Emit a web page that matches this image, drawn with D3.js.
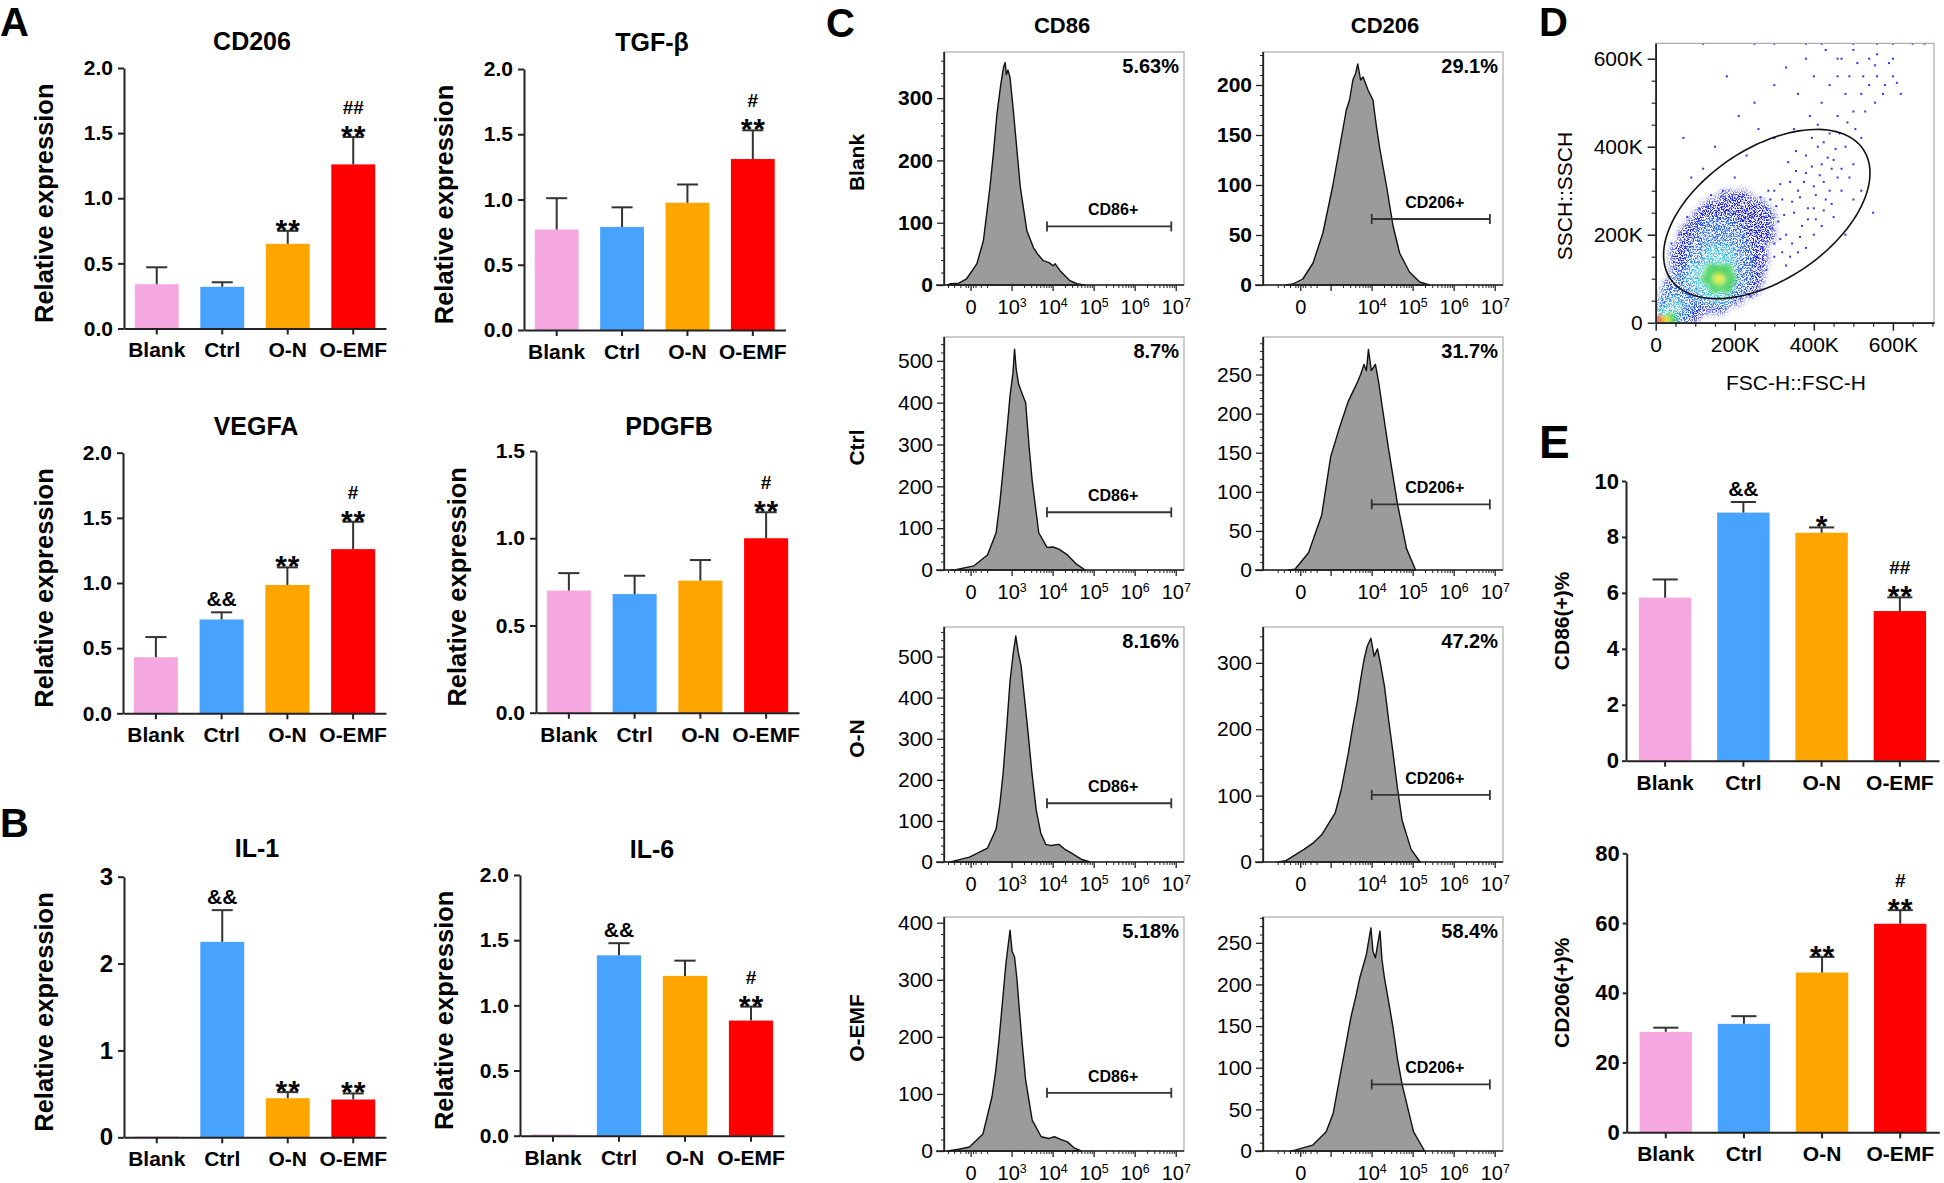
<!DOCTYPE html>
<html><head><meta charset="utf-8">
<script src="https://cdn.jsdelivr.net/npm/d3@7/dist/d3.min.js"></script>
<style>body{margin:0;background:#fff} svg{display:block}</style>
</head><body>
<svg id="fig" width="1944" height="1183"></svg>
<script>
// ---------------- DATA ----------------
const groups = ["Blank","Ctrl","O-N","O-EMF"];
const groupColors = ["#f5a8e0","#48a2ff","#ffa500","#ff0000"];

// Panel A
const cd206Mean = [0.34,0.32,0.65,1.26];
const cd206Sd   = [0.13,0.035,0.10,0.21];
const cd206Mark1 = ["","","**","**"];
const cd206Mark2 = ["","","","##"];

const tgfMean = [0.77,0.79,0.975,1.31];
const tgfSd   = [0.24,0.15,0.14,0.22];
const tgfMark1 = ["","","","**"];
const tgfMark2 = ["","","","#"];

const vegfaMean = [0.43,0.72,0.985,1.26];
const vegfaSd   = [0.155,0.055,0.135,0.21];
const vegfaMark1 = ["","&&","**","**"];
const vegfaMark2 = ["","","","#"];

const pdgfbMean = [0.70,0.68,0.757,1.0];
const pdgfbSd   = [0.10,0.105,0.118,0.149];
const pdgfbMark1 = ["","","","**"];
const pdgfbMark2 = ["","","","#"];

// Panel B
const il1Mean = [0.01,2.25,0.45,0.435];
const il1Sd   = [0,0.365,0.07,0.07];
const il1Mark1 = ["","&&","**","**"];
const il1Mark2 = ["","","",""];

const il6Mean = [0.01,1.384,1.226,0.883];
const il6Sd   = [0,0.093,0.117,0.107];
const il6Mark1 = ["","&&","","**"];
const il6Mark2 = ["","","","#"];

// Panel E
const cd86PctMean = [5.83,8.87,8.15,5.35];
const cd86PctSd   = [0.65,0.38,0.19,0.49];
const cd86PctMark1 = ["","&&","*","**"];
const cd86PctMark2 = ["","","","##"];

const cd206PctMean = [28.8,31.1,45.8,59.8];
const cd206PctSd   = [1.2,2.2,4.5,3.9];
const cd206PctMark1 = ["","","**","**"];
const cd206PctMark2 = ["","","","#"];

// tick values
const relTicks2 = [0,0.5,1.0,1.5,2.0];
const relTicks15 = [0,0.5,1.0,1.5];
const il1Ticks = [0,1,2,3];
const cd86PctTicks = [0,2,4,6,8,10];
const cd206PctTicks = [0,20,40,60,80];

// Panel C: histograms, [display position (decade units), count]
const histBlankCD86 = [[1.42,0],[1.5,2],[1.7,3],[1.89,10],[2.14,34],[2.30,71],[2.46,157],[2.55,215],[2.63,274],[2.72,320],[2.79,349],[2.83,357],[2.86,338],[2.9,345],[2.95,333],[3.03,280],[3.12,215],[3.20,157],[3.36,87],[3.52,60],[3.62,50],[3.76,39],[3.9,36],[4.0,31],[4.05,34],[4.17,23],[4.3,14],[4.41,7],[4.58,2],[4.75,0]];
const histBlankCD206 = [[1.9,0],[2.07,1],[2.31,6],[2.56,22],[2.80,52],[3.04,99],[3.21,138],[3.37,175],[3.45,185],[3.53,205],[3.6,212],[3.65,221],[3.72,205],[3.78,208],[3.9,195],[4.02,185],[4.1,160],[4.18,138],[4.35,99],[4.51,59],[4.67,32],[4.91,13],[5.16,3],[5.4,0]];
const histCtrlCD86 = [[1.5,0],[1.63,1],[2.07,10],[2.40,36],[2.61,89],[2.70,160],[2.79,249],[2.88,340],[2.95,417],[3.02,470],[3.06,528],[3.1,480],[3.16,444],[3.25,420],[3.33,400],[3.41,300],[3.49,213],[3.65,89],[3.85,54],[4.0,55],[4.14,50],[4.35,36],[4.57,14],[4.78,0]];
const histCtrlCD206 = [[1.95,0],[2.12,1],[2.45,22],[2.77,70],[2.99,145],[3.21,183],[3.42,216],[3.55,230],[3.64,240],[3.72,250],[3.80,263],[3.86,255],[3.91,282],[3.98,255],[4.08,263],[4.16,240],[4.24,211],[4.40,155],[4.62,84],[4.84,27],[5.06,0]];
const histONCD86 = [[1.45,0],[1.52,1],[1.96,12],[2.40,34],[2.61,80],[2.70,140],[2.78,215],[2.87,330],[2.95,441],[3.03,510],[3.09,550],[3.15,510],[3.22,477],[3.30,400],[3.38,324],[3.48,220],[3.59,125],[3.70,70],[3.82,43],[3.95,40],[4.14,43],[4.30,30],[4.46,21],[4.70,6],[4.90,0]];
const histONCD206 = [[1.7,0],[1.90,2],[2.34,19],[2.55,28],[2.77,41],[3.10,74],[3.25,110],[3.42,164],[3.53,205],[3.64,242],[3.72,275],[3.80,304],[3.88,325],[3.97,337],[4.05,310],[4.13,321],[4.20,300],[4.30,265],[4.40,215],[4.51,164],[4.62,110],[4.73,63],[4.95,19],[5.17,0]];
const histOEMFCD86 = [[1.42,0],[1.7,3],[1.96,7],[2.29,30],[2.51,95],[2.60,140],[2.68,194],[2.77,265],[2.85,329],[2.95,387],[3.0,350],[3.06,340],[3.12,300],[3.17,253],[3.25,185],[3.33,124],[3.49,54],[3.71,25],[3.9,22],[4.03,25],[4.2,20],[4.35,16],[4.5,6],[4.68,0]];
const histOEMFCD206 = [[2.0,0],[2.12,1],[2.55,7],[2.88,23],[3.05,45],[3.21,88],[3.35,125],[3.48,160],[3.60,185],[3.70,208],[3.86,236],[3.97,268],[4.02,240],[4.08,232],[4.19,264],[4.24,230],[4.30,208],[4.40,180],[4.51,148],[4.62,110],[4.73,80],[5.01,23],[5.28,0]];

const cd86Hists = [histBlankCD86,histCtrlCD86,histONCD86,histOEMFCD86];
const cd206Hists = [histBlankCD206,histCtrlCD206,histONCD206,histOEMFCD206];
const cd86Pct = ["5.63%","8.7%","8.16%","5.18%"];
const cd206Pct = ["29.1%","31.7%","47.2%","58.4%"];
const cd86YMax = [374,557,572,410];
const cd206YMax = [233,298,354,281];
const cd86YTicks = [[0,100,200,300],[0,100,200,300,400,500],[0,100,200,300,400,500],[0,100,200,300,400]];
const cd206YTicks = [[0,50,100,150,200],[0,50,100,150,200,250],[0,100,200,300],[0,50,100,150,200,250]];
const cd86Gate = [94,138,143,102];
const cd206Gate = [66,84,101,80];
const cd86GateRange = [3.85,6.88];
const cd206GateRange = [3.99,6.87];
const cd86XTicks = [2,3,4,5,6,7];
const cd86XExp = [0,3,4,5,6,7];
const cd206XTicks = [2.26,4,5,6,7];
const cd206XExp = [0,4,5,6,7];

// Panel D: scatter (values in K)
const scatterTicks = [0,200,400,600];
const scatterDensity = [
 [180,280,1],[220,280,1],
 [140,260,1],[180,260,1],[220,260,1],[260,260,1],
 [120,240,1],[160,240,1],[200,240,1],[240,240,1],[280,240,1],
 [100,220,1],[140,220,2],[180,220,2],[220,220,1],[260,220,1],
 [80,200,1],[120,200,2],[160,200,2],[200,200,2],[240,200,1],[280,200,1],
 [80,180,1],[120,180,2],[160,180,2],[200,180,2],[240,180,1],
 [60,160,1],[100,160,2],[140,160,3],[180,160,3],[220,160,2],[260,160,1],
 [60,140,1],[100,140,2],[140,140,3],[180,140,3],[220,140,2],[260,140,1],
 [60,120,1],[100,120,3],[140,120,4],[160,120,4],[180,120,4],[220,120,2],[250,120,1],
 [60,100,2],[100,100,3],[130,100,4],[160,100,5],[190,100,4],[220,100,2],[250,100,1],
 [40,80,1],[80,80,2],[120,80,3],[150,80,4],[180,80,4],[210,80,2],[240,80,1],
 [30,60,2],[60,60,2],[100,60,2],[140,60,3],[170,60,3],[200,60,1],
 [20,40,2],[50,40,3],[80,40,2],[120,40,1],[160,40,1],
 [10,20,3],[30,20,3],[60,20,2],[90,20,1],
 [10,6,6],[25,6,5],[40,8,4],[60,6,2]
];
const scatterSparse = [[300,300],[320,280],[340,320],[360,300],[380,340],[400,310],[420,360],[350,250],[310,230],[280,260],[330,200],[370,220],[400,260],[440,300],[460,330],[430,280],[380,380],[410,400],[450,370],[480,400],[470,350],[500,360],[520,420],[440,430],[460,470],[500,480],[520,520],[540,540],[560,560],[580,540],[600,560],[480,520],[420,500],[390,470],[350,440],[300,420],[260,440],[230,380],[200,330],[170,300],[140,290],[110,260],[80,240],[60,200],[40,180],[300,150],[330,130],[360,160],[280,120],[250,90],[240,60],[400,200],[450,240],[500,280],[520,300],[480,200],[550,250],[250,500],[180,560],[330,580],[380,600],[430,620],[470,600],[510,590],[540,600],[620,520],[600,600],[460,560],[500,620],[360,520],[300,540],[210,470],[150,400],[120,350],[90,330],[70,420],
 [290,280],[305,265],[325,245],[345,275],[365,285],[385,260],[405,290],[425,320],[445,350],[375,320],[355,345],[335,365],[395,355],[415,335],[435,375],[455,395],[315,315],[285,300],[265,285],[275,240],[295,215],[315,190],[345,180],[365,195],[385,235],[405,235],[425,255],[445,270],[470,300],[490,330],[300,180],[270,170],[320,160],[340,150],[380,170],[420,220],[355,390],[395,420],[425,410],[465,430],[410,450],[485,455],[505,440],[530,480],[555,500],[575,520],[590,590],[555,585],[525,560],[490,560],[460,600],[440,540],[400,560],[560,610],[610,545],
 [120,634],[250,634],[300,634],[380,634],[420,634],[500,634],[560,634],[600,634],[650,634],[680,634]];
const gateCenter = [281,247];
const gateAxisU = [244,147];
const gateAxisV = [93,-124];

// ---------------- DRAW ----------------
const FONT = '"Liberation Sans", Arial, Helvetica, sans-serif';
const svg = d3.select("#fig").attr("font-family",FONT);
svg.append("rect").attr("width",1944).attr("height",1183).attr("fill","#fff");

function styleAxis(sel, fs, fw, sw){
  sel.select(".domain").attr("stroke","#222").attr("stroke-width",sw);
  sel.selectAll(".tick line").attr("stroke","#222").attr("stroke-width",sw);
  sel.selectAll("text").attr("font-size",fs).attr("font-weight",fw).attr("fill","#000").attr("font-family",FONT);
}

function barChart(o){
  const g = svg.append("g");
  const x = d3.scaleBand().domain(groups).range([o.x0,o.x1]).paddingInner(0.33).paddingOuter(0.165);
  const y = d3.scaleLinear().domain([0,o.max]).range([o.yBot,o.yTop]);
  const bw = x.bandwidth();
  g.selectAll(".bar").data(groups).join("rect")
    .attr("x",d=>x(d)).attr("width",bw)
    .attr("y",(d,i)=>y(o.mean[i])).attr("height",(d,i)=>y(0)-y(o.mean[i]))
    .attr("fill",(d,i)=>groupColors[i]);
  const capW = bw*0.48;
  groups.forEach((grp,i)=>{
    const cx = x(grp)+bw/2;
    const yt = y(o.mean[i]+o.sd[i]);
    if(o.sd[i]>0){
      g.append("line").attr("x1",cx).attr("x2",cx).attr("y1",y(o.mean[i])).attr("y2",yt).attr("stroke","#333").attr("stroke-width",2);
      g.append("line").attr("x1",cx-capW/2).attr("x2",cx+capW/2).attr("y1",yt).attr("y2",yt).attr("stroke","#333").attr("stroke-width",2);
    }
    const m1 = o.mark1[i], m2 = o.mark2[i];
    if(m1){
      if(m1.includes("*")){
        g.append("text").attr("x",cx+0.5).attr("y",yt+9).attr("text-anchor","middle").attr("font-weight","bold")
          .attr("font-size",30).attr("letter-spacing",1).text(m1);
      } else {
        g.append("text").attr("x",cx).attr("y",yt-6).attr("text-anchor","middle").attr("font-weight","bold")
          .attr("font-size",21).text(m1);
      }
    }
    if(m2){
      const m2y = m1 ? yt-23 : yt-6;
      g.append("text").attr("x",cx).attr("y",m2y).attr("text-anchor","middle").attr("font-weight","bold")
        .attr("font-size",19).text(m2);
    }
  });
  const ay = g.append("g").attr("transform",`translate(${o.x0},0)`)
    .call(d3.axisLeft(y).tickValues(o.ticks).tickFormat(o.fmt).tickSize(o.tickLen||6).tickSizeOuter(0).tickPadding(o.tickPad||5));
  styleAxis(ay, o.tickFs||21, "bold", 2);
  const ax = g.append("g").attr("transform",`translate(0,${o.yBot})`)
    .call(d3.axisBottom(x).tickSize(6).tickSizeOuter(0).tickPadding(o.xPad||8));
  styleAxis(ax, o.catFs||21, "bold", 2);
  if(o.title) g.append("text").attr("x",o.tx).attr("y",o.ty).attr("text-anchor","middle")
      .attr("font-size",25).attr("font-weight","bold").text(o.title);
  g.append("text").attr("transform",`translate(${o.lx},${(o.yTop+o.yBot)/2+o.lyOff}) rotate(-90)`)
    .attr("dy","0.3em").attr("text-anchor","middle").attr("font-size",o.lfs||25.5).attr("font-weight","bold").text(o.ylabel);
}
const f1 = d3.format(".1f"), f0 = d3.format("d");

barChart({x0:124,x1:386,yTop:68,yBot:328.5,max:2,mean:cd206Mean,sd:cd206Sd,mark1:cd206Mark1,mark2:cd206Mark2,ticks:relTicks2,fmt:f1,title:"CD206",tx:252,ty:50,ylabel:"Relative expression",lx:45,lyOff:5});
barChart({x0:524,x1:785.5,yTop:69,yBot:330,max:2,mean:tgfMean,sd:tgfSd,mark1:tgfMark1,mark2:tgfMark2,ticks:relTicks2,fmt:f1,title:"TGF-β",tx:652,ty:51,ylabel:"Relative expression",lx:445,lyOff:5});
barChart({x0:123,x1:386,yTop:452.7,yBot:713.3,max:2,mean:vegfaMean,sd:vegfaSd,mark1:vegfaMark1,mark2:vegfaMark2,ticks:relTicks2,fmt:f1,title:"VEGFA",tx:256,ty:435,ylabel:"Relative expression",lx:45,lyOff:5});
barChart({x0:536,x1:799,yTop:451,yBot:712.7,max:1.5,mean:pdgfbMean,sd:pdgfbSd,mark1:pdgfbMark1,mark2:pdgfbMark2,ticks:relTicks15,fmt:f1,title:"PDGFB",tx:669,ty:435,ylabel:"Relative expression",lx:458,lyOff:5});
barChart({x0:124,x1:386,yTop:876.7,yBot:1137.3,max:3,mean:il1Mean,sd:il1Sd,mark1:il1Mark1,mark2:il1Mark2,ticks:il1Ticks,fmt:f0,title:"IL-1",tx:257,ty:857,ylabel:"Relative expression",lx:45,lyOff:5,tickFs:24});
barChart({x0:520,x1:784,yTop:875,yBot:1135.7,max:2,mean:il6Mean,sd:il6Sd,mark1:il6Mark1,mark2:il6Mark2,ticks:relTicks2,fmt:f1,title:"IL-6",tx:652,ty:858,ylabel:"Relative expression",lx:445,lyOff:5});
barChart({x0:1626,x1:1939,yTop:481,yBot:760.7,max:10,mean:cd86PctMean,sd:cd86PctSd,mark1:cd86PctMark1,mark2:cd86PctMark2,ticks:cd86PctTicks,fmt:f0,ylabel:"CD86(+)%",lx:1563,lyOff:0,lfs:21,tickLen:4,tickPad:3,tickFs:22});
barChart({x0:1626.7,x1:1939.3,yTop:853.3,yBot:1132.3,max:80,mean:cd206PctMean,sd:cd206PctSd,mark1:cd206PctMark1,mark2:cd206PctMark2,ticks:cd206PctTicks,fmt:f0,ylabel:"CD206(+)%",lx:1563,lyOff:0,lfs:21,tickLen:4,tickPad:3,tickFs:22});

// ---- Panel C histograms ----
const histDomain = [1.34,7.19];
const rowTop = [52,337,627,917], rowBot = [285,570,862,1151];
const colX = [[944,1184],[1263,1503]];
function expLabel(sel, e){
  if(e===0){ sel.text("0"); return; }
  sel.append("tspan").text("10");
  sel.append("tspan").attr("dy","-0.55em").attr("font-size","0.62em").text(e);
}
function histo(c, r){
  const data = c===0?cd86Hists[r]:cd206Hists[r];
  const yMax = c===0?cd86YMax[r]:cd206YMax[r];
  const yT = c===0?cd86YTicks[r]:cd206YTicks[r];
  const [x0,x1] = colX[c]; const top=rowTop[r], bot=rowBot[r];
  const x = d3.scaleLinear().domain(histDomain).range([x0,x1]);
  const y = d3.scaleLinear().domain([0,yMax]).range([bot,top]);
  const g = svg.append("g");
  g.append("rect").attr("x",x0).attr("y",top).attr("width",x1-x0).attr("height",bot-top).attr("fill","none").attr("stroke","#aaa").attr("stroke-width",1.2);
  const area = d3.area().x(d=>x(d[0])).y0(y(0)).y1(d=>y(d[1]));
  g.append("path").datum(data).attr("d",area).attr("fill","#9b9b9b").attr("stroke","#111").attr("stroke-width",1.4).attr("stroke-linejoin","round");
  const step = yT[1]-yT[0];
  const minor = d3.range(0,yMax+0.1,step/5).filter(v=>!yT.includes(v));
  const aym = g.append("g").attr("transform",`translate(${x0},0)`).call(d3.axisLeft(y).tickValues(minor).tickFormat("").tickSize(3).tickSizeOuter(0));
  styleAxis(aym,12,"normal",1);
  const ay = g.append("g").attr("transform",`translate(${x0},0)`).call(d3.axisLeft(y).tickValues(yT).tickFormat(d3.format("d")).tickSize(7).tickSizeOuter(0).tickPadding(4));
  styleAxis(ay,21,r===0?"bold":"normal",1.3);
  const xt = c===0?cd86XTicks:cd206XTicks, xe = c===0?cd86XExp:cd206XExp;
  const zero = xt[0];
  const minorX = [zero-0.55,zero-0.4,zero-0.25,zero-0.12,zero-0.06,zero+0.06,zero+0.12,zero+0.25,zero+0.4];
  for(let k=3;k<7;k++) for(let m=2;m<10;m++) minorX.push(k+Math.log10(m));
  const majorX = c===0?xt:[...xt,3];
  const minorF = minorX.filter(v=>v>histDomain[0] && v<histDomain[1] && v>(zero-0.6) && !(c===1 && v>zero+0.45 && v<3));
  g.append("line").attr("x1",x0-8).attr("x2",x1).attr("y1",bot).attr("y2",bot).attr("stroke","#222").attr("stroke-width",1.3);
  g.selectAll(".mnx").data(minorF).join("line").attr("x1",d=>x(d)).attr("x2",d=>x(d)).attr("y1",bot).attr("y2",bot+3).attr("stroke","#222").attr("stroke-width",1);
  g.selectAll(".mjx").data(majorX).join("line").attr("x1",d=>x(d)).attr("x2",d=>x(d)).attr("y1",bot).attr("y2",bot+6).attr("stroke","#222").attr("stroke-width",1.3);
  xt.forEach((v,i)=>{
    const t = g.append("text").attr("x",x(v)).attr("y",bot+29).attr("text-anchor","middle").attr("font-size",20).attr("fill","#000");
    expLabel(t, xe[i]);
  });
  g.append("line").attr("x1",x0).attr("x2",x0).attr("y1",top).attr("y2",bot).attr("stroke","#222").attr("stroke-width",1.3);
  const gr = c===0?cd86GateRange:cd206GateRange;
  const gy = y(c===0?cd86Gate[r]:cd206Gate[r]);
  const gx0 = x(gr[0]), gx1 = x(gr[1]);
  g.append("line").attr("x1",gx0).attr("x2",gx1).attr("y1",gy).attr("y2",gy).attr("stroke","#333").attr("stroke-width",1.8);
  [gx0,gx1].forEach(v=>g.append("line").attr("x1",v).attr("x2",v).attr("y1",gy-5).attr("y2",gy+5).attr("stroke","#333").attr("stroke-width",1.8));
  g.append("text").attr("x",(gx0+gx1)/2+4).attr("y",gy-11).attr("text-anchor","middle").attr("font-size",16).attr("font-weight","bold").text(c===0?"CD86+":"CD206+");
  g.append("text").attr("x",x1-5).attr("y",top+21).attr("text-anchor","end").attr("font-size",20).attr("font-weight","bold").text(c===0?cd86Pct[r]:cd206Pct[r]);
}
for(let r=0;r<4;r++){ histo(0,r); histo(1,r); }
svg.append("text").attr("x",1062).attr("y",33).attr("text-anchor","middle").attr("font-size",22).attr("font-weight","bold").text("CD86");
svg.append("text").attr("x",1385).attr("y",33).attr("text-anchor","middle").attr("font-size",22).attr("font-weight","bold").text("CD206");
groups.forEach((gname,r)=>{
  svg.append("text").attr("transform",`translate(857,${(rowTop[r]+rowBot[r])/2-6}) rotate(-90)`).attr("dy","0.35em")
    .attr("text-anchor","middle").attr("font-size",21).attr("font-weight","bold").text(gname);
});

// ---- Panel D scatter ----
(function(){
  const x0=1655.7, x1=1934, top=43.3, bot=322.7;
  const x = d3.scaleLinear().domain([0,704]).range([x0,x1]);
  const y = d3.scaleLinear().domain([0,635]).range([bot,top]);
  const g = svg.append("g");
  const defs = svg.append("defs");
  defs.append("clipPath").attr("id","dclip").append("rect").attr("x",x0).attr("y",top).attr("width",x1-x0).attr("height",bot-top);
  const fs = defs.append("filter").attr("id","speck").attr("x",x0).attr("y",top).attr("width",x1-x0).attr("height",bot-top).attr("filterUnits","userSpaceOnUse");
  fs.append("feGaussianBlur").attr("in","SourceGraphic").attr("stdDeviation",3).attr("result","b");
  fs.append("feTurbulence").attr("type","fractalNoise").attr("baseFrequency",0.75).attr("numOctaves",2).attr("seed",7).attr("result","n");
  fs.append("feColorMatrix").attr("in","n").attr("type","matrix").attr("values","0 0 0 0 0  0 0 0 0 0  0 0 0 0 0  9 0 0 0 -4.1").attr("result","m");
  fs.append("feComposite").attr("in","b").attr("in2","m").attr("operator","in");
  const fb = defs.append("filter").attr("id","blur").attr("x","-30%").attr("y","-30%").attr("width","160%").attr("height","160%");
  fb.append("feGaussianBlur").attr("stdDeviation",2.4);
  const levelColor = ["#fff","#1c24f0","#2f6cff","#40c8f0","#46d25a","#eef020","#ff2a10"];
  const levelR = [0,9.5,9,8,6.5,5,4.5];
  const dg = g.append("g").attr("clip-path","url(#dclip)");
  const low = dg.append("g").attr("filter","url(#speck)");
  low.selectAll("circle").data(scatterDensity.filter(d=>d[2]<=3).sort((a,b)=>a[2]-b[2])).join("circle")
    .attr("cx",d=>x(d[0])).attr("cy",d=>y(d[1])).attr("r",d=>levelR[d[2]])
    .attr("fill",d=>levelColor[d[2]]);
  const high = dg.append("g").attr("filter","url(#blur)");
  high.selectAll("circle").data(scatterDensity.filter(d=>d[2]>3).sort((a,b)=>a[2]-b[2])).join("circle")
    .attr("cx",d=>x(d[0])).attr("cy",d=>y(d[1])).attr("r",d=>levelR[d[2]])
    .attr("fill",d=>levelColor[d[2]]).attr("fill-opacity",0.85);
  dg.selectAll("rect.sp").data(scatterSparse).join("rect")
    .attr("x",d=>x(d[0])-1).attr("y",d=>y(d[1])-1).attr("width",2).attr("height",2).attr("fill","#2a3af0");
  const pts = d3.range(0,361,3).map(t=>{const a=t*Math.PI/180;return [gateCenter[0]+gateAxisU[0]*Math.cos(a)+gateAxisV[0]*Math.sin(a), gateCenter[1]+gateAxisU[1]*Math.cos(a)+gateAxisV[1]*Math.sin(a)];});
  g.append("path").datum(pts).attr("d",d3.line().x(d=>x(d[0])).y(d=>y(d[1])).curve(d3.curveLinearClosed))
    .attr("fill","none").attr("stroke","#111").attr("stroke-width",1.6);
  g.append("rect").attr("x",x0).attr("y",top).attr("width",x1-x0).attr("height",bot-top).attr("fill","none").attr("stroke","#999").attr("stroke-width",1);
  const minor = d3.range(0,701,50).filter(v=>!scatterTicks.includes(v));
  const fmtK = d=>d===0?"0":d+"K";
  const aym = g.append("g").attr("transform",`translate(${x0},0)`).call(d3.axisLeft(y).tickValues(minor.filter(v=>v<635)).tickFormat("").tickSize(4).tickSizeOuter(0));
  styleAxis(aym,10,"normal",1.2);
  const ay = g.append("g").attr("transform",`translate(${x0},0)`).call(d3.axisLeft(y).tickValues(scatterTicks).tickFormat(fmtK).tickSize(8).tickSizeOuter(0).tickPadding(5));
  styleAxis(ay,21,"normal",1.5);
  const axm = g.append("g").attr("transform",`translate(0,${bot})`).call(d3.axisBottom(x).tickValues(minor).tickFormat("").tickSize(4).tickSizeOuter(0));
  styleAxis(axm,10,"normal",1.2);
  const ax = g.append("g").attr("transform",`translate(0,${bot})`).call(d3.axisBottom(x).tickValues(scatterTicks).tickFormat(fmtK).tickSize(8).tickSizeOuter(0).tickPadding(6));
  styleAxis(ax,21,"normal",1.5);
  g.append("text").attr("x",1796).attr("y",390).attr("text-anchor","middle").attr("font-size",21).text("FSC-H::FSC-H");
  g.append("text").attr("transform",`translate(1565,196) rotate(-90)`).attr("dy","0.35em").attr("text-anchor","middle").attr("font-size",21).text("SSCH::SSCH");
})();

// panel letters
[["A",0,36,40],["B",0,837,40],["C",826,37,40],["D",1539,36,40],["E",1539,458,46]].forEach(([t,x,y,s])=>{
  svg.append("text").attr("x",x).attr("y",y).attr("font-size",s).attr("font-weight","bold").text(t);
});
</script>
</body></html>
